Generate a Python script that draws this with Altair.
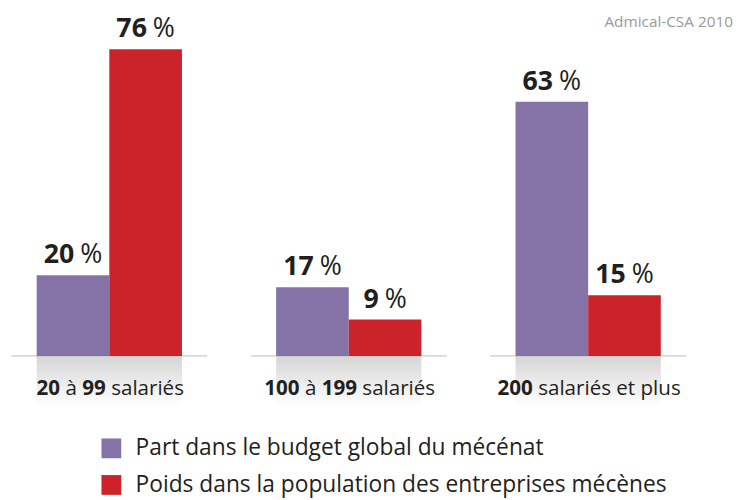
import altair as alt
import pandas as pd

# ---------------- data ----------------
groups = ["20 à 99 salariés", "100 à 199 salariés", "200 salariés et plus"]
series = [
    "Part dans le budget global du mécénat",
    "Poids dans la population des entreprises mécènes",
]
part_budget = [20, 17, 63]
poids_population = [76, 9, 15]
colors = ["#8573a8", "#cc232b"]
# words of each category label (bold flag), separated by spaces
group_label_parts = [
    [("20", True), ("à", False), ("99", True), ("salariés", False)],
    [("100", True), ("à", False), ("199", True), ("salariés", False)],
    [("200", True), ("salariés et plus", False)],
]
source_text = "Admical-CSA 2010"

# ---------------- styling ----------------
FONT = "Open Sans"
TEXT_COLOR = "#231f20"
W, H = 734, 492
PX_PER_UNIT = 4.08
BASE_Y = 349  # pixel of value 0 inside the chart
Y_DOMAIN = [-(H - BASE_Y) / PX_PER_UNIT, BASE_Y / PX_PER_UNIT]
CAT_SIZE = 20.8
VAL_SIZE = 27

# approximate Open Sans advance widths (em)
ADV = {" ": 0.26, "a": 0.556, "à": 0.556, "e": 0.561, "é": 0.561, "i": 0.253,
       "l": 0.253, "p": 0.613, "r": 0.408, "s": 0.477, "t": 0.353, "u": 0.613,
       "%": 0.826}


def text_width(s, size):
    return sum(ADV.get(c, 0.572) for c in s) * size


rows = []
for g, a, b in zip(groups, part_budget, poids_population):
    rows.append({"group": g, "series": series[0], "value": a})
    rows.append({"group": g, "series": series[1], "value": b})
df = pd.DataFrame(rows)

x_scale = alt.Scale(domain=groups, range=[29, 660], paddingInner=0.3933, paddingOuter=0)
y_scale = alt.Scale(domain=Y_DOMAIN)
X = alt.X("group:N", scale=x_scale, axis=None, sort=groups)
Y = alt.Y("value:Q", scale=y_scale, axis=None)

base = alt.Chart(df)

shadow = alt.Chart(pd.DataFrame({"group": groups})).mark_bar(
    color=alt.Gradient(
        gradient="linear",
        stops=[alt.GradientStop(color="#d5d5d5", offset=0),
               alt.GradientStop(color="#ffffff", offset=1)],
        x1=1, x2=1, y1=0, y2=1,
    )
).encode(
    x=X,
    y=alt.Y("a:Q", scale=y_scale, axis=None),
    y2="b:Q",
).transform_calculate(a="0", b="-12.5")

baseline = alt.Chart(pd.DataFrame({"group": groups, "zero": [0, 0, 0]})).mark_tick(
    orient="horizontal", size=198, thickness=2, color="#c9c9c9"
).encode(x=X, y=alt.Y("zero:Q", scale=y_scale, axis=None))

bars = base.mark_bar().encode(
    x=X,
    xOffset=alt.XOffset("series:N", sort=series, scale=alt.Scale(paddingInner=0, paddingOuter=0)),
    y=Y,
    color=alt.Color(
        "series:N",
        sort=series,
        scale=alt.Scale(domain=series, range=colors),
        legend=alt.Legend(
            title=None, orient="none", legendX=93, legendY=431, direction="vertical",
            symbolType="square", symbolSize=400, symbolStrokeWidth=0,
            labelFontSize=23, labelFont=FONT, labelColor=TEXT_COLOR,
            labelOffset=13, rowPadding=13, labelLimit=0, padding=0,
        ),
    ),
)

layers = [shadow, baseline, bars]

# value labels: bold number + regular "%", separated by a space
space_v = text_width(" ", VAL_SIZE) - 1
pct_w = text_width("%", VAL_SIZE)
for nd in (1, 2):
    num_w = nd * 0.572 * VAL_SIZE
    total = num_w + space_v + pct_w
    right = -total / 2 + num_w
    sub = base.transform_filter(f"length(toString(datum.value)) == {nd}")
    enc = dict(x=X, xOffset=alt.XOffset("series:N", sort=series), y=Y)
    layers.append(sub.mark_text(
        font=FONT, fontSize=VAL_SIZE, fontWeight="bold", color=TEXT_COLOR,
        align="right", baseline="alphabetic", dx=right, dy=-12,
    ).encode(text="value:Q", **enc))
    layers.append(sub.mark_text(
        font=FONT, fontSize=VAL_SIZE, fontWeight="normal", color=TEXT_COLOR,
        align="left", baseline="alphabetic", dx=right + space_v, dy=-12,
    ).encode(text=alt.value("%"), **enc))

# category labels with mixed weights
space_c = text_width(" ", CAT_SIZE)
for g, parts in zip(groups, group_label_parts):
    widths = [text_width(t, CAT_SIZE) for t, _ in parts]
    total = sum(widths) + space_c * (len(parts) - 1)
    start = -total / 2 + 1
    for (t, bold), w in zip(parts, widths):
        layers.append(
            alt.Chart(pd.DataFrame({"group": [g], "zero": [0], "label": [t]})).mark_text(
                font=FONT, fontSize=CAT_SIZE, fontWeight="bold" if bold else "normal",
                color=TEXT_COLOR, align="left", baseline="alphabetic", dx=start, dy=40,
            ).encode(x=X, y=alt.Y("zero:Q", scale=y_scale, axis=None), text="label:N")
        )
        start += w + space_c

source = alt.Chart(pd.DataFrame({"t": [source_text]})).mark_text(
    font=FONT, fontSize=15.5, color="#9a9a9a", align="right", baseline="alphabetic"
).encode(text="t:N", x=alt.value(W - 1), y=alt.value(17))
layers.append(source)

chart = alt.layer(*layers).properties(
    width=W, height=H, autosize=alt.AutoSizeParams(type="none"), padding=0
).configure_view(stroke=None)

chart.save("out.html", embed_options={"renderer": "svg", "actions": False})
